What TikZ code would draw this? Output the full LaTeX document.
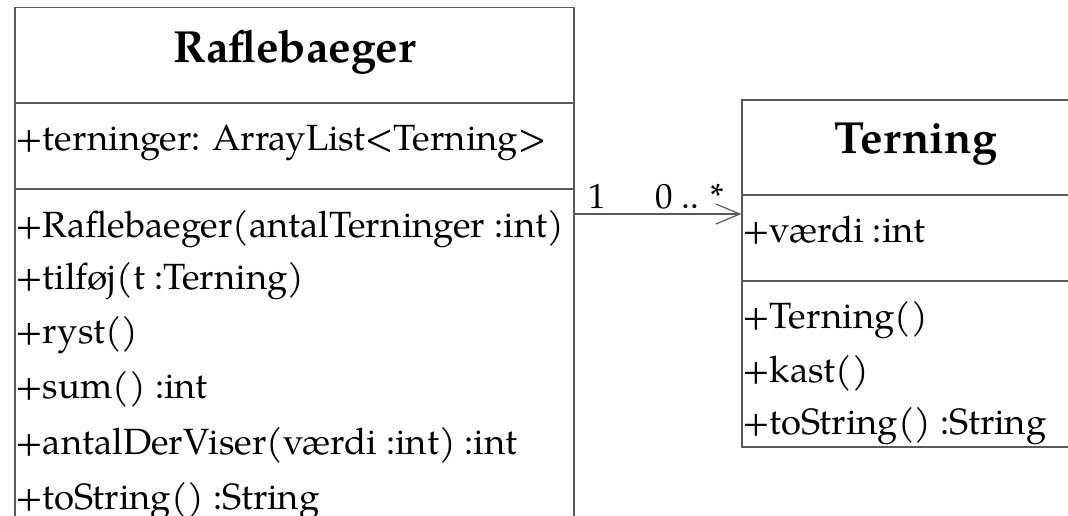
\documentclass[tikz,border=0pt]{standalone}
\usepackage{fontspec}
\setmainfont{TeX Gyre Pagella}
\usetikzlibrary{arrows.meta}
\begin{document}
\begin{tikzpicture}[x=1pt,y=-1pt,
  box/.style={draw=black!65, line width=1.2pt, rectangle, inner sep=0pt},
  sep/.style={draw=black!65, line width=1.2pt},
  title/.style={font=\fontsize{45}{45}\selectfont\bfseries, inner sep=0pt, anchor=base},
  member/.style={font=\fontsize{36.5}{36.5}\selectfont, inner sep=0pt, anchor=base west},
  mult/.style={font=\fontsize{35}{35}\selectfont, inner sep=0pt, anchor=base west},
  assoc/.style={draw=black!65, line width=1.2pt, -{Straight Barb[length=24pt,width=20pt]}}]
\useasboundingbox (0,0) rectangle (1068,515);
\clip (0,0) rectangle (1068,515);
% class Raflebaeger
\node[box, minimum width=559pt, minimum height=600pt] (raf) at (294.5,307.5) {};
\draw[sep] (raf.west |- 0,103) -- (raf.east |- 0,103);
\draw[sep] (raf.west |- 0,189) -- (raf.east |- 0,189);
\node[title] (rafT) at (294.5,62) {Raflebaeger};
\node[member] (rafA1) at (15,150) {+terninger: ArrayList<Terning>};
\node[member] (rafM1) at (15,237) {+Raflebaeger(antalTerninger :int)};
\node[member] (rafM2) at (15,289) {+tilføj(t :Terning)};
\node[member] (rafM3) at (15,343) {+ryst()};
\node[member] (rafM4) at (15,398) {+sum() :int};
\node[member] (rafM5) at (15,454) {+antalDerViser(værdi :int) :int};
\node[member] (rafM6) at (15,509) {+toString() :String};
% class Terning
\node[box, minimum width=348pt, minimum height=347pt] (tern) at (916,273.5) {};
\draw[sep] (tern.west |- 0,195) -- (tern.east |- 0,195);
\draw[sep] (tern.west |- 0,281) -- (tern.east |- 0,281);
\node[title] (ternT) at (916,153) {Terning};
\node[member] (ternA1) at (742,242) {+værdi :int};
\node[member] (ternM1) at (742,328) {+Terning()};
\node[member] (ternM2) at (742,382) {+kast()};
\node[member] (ternM3) at (742,434) {+toString() :String};
% association
\coordinate (assocY) at (0,214);
\draw[assoc] (raf.east |- assocY) -- (tern.west |- assocY);
\node[mult] (m1) at (588,208) {1};
\node[mult] (m2) at (655,208) {0 .. *};
\end{tikzpicture}
\end{document}
